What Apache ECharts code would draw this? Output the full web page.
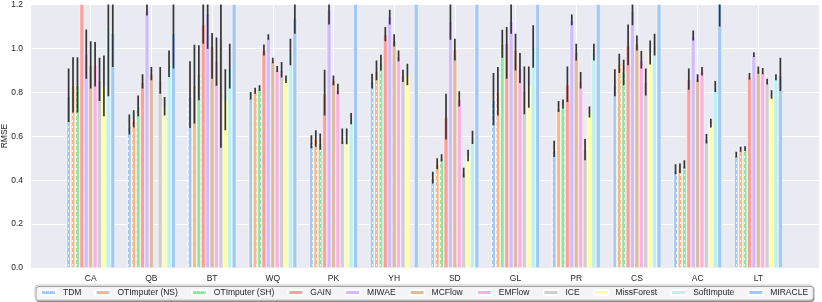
<!DOCTYPE html>
<html><head><meta charset="utf-8">
<script src="https://cdn.jsdelivr.net/npm/echarts@6/dist/echarts.min.js"></script>
<style>html,body{margin:0;padding:0;background:#fff}#c{width:822px;height:302px}</style>
</head><body><div id="c"></div>
<script>
const categories = ['CA','QB','BT','WQ','PK','YH','SD','GL','PR','CS','AC','LT'];
const methods = ['TDM','OTImputer (NS)','OTImputer (SH)','GAIN','MIWAE','MCFlow','EMFlow','ICE','MissForest','SoftImpute','MIRACLE'];
const colors = ['#a1c9f4','#ffb482','#8de5a1','#ff9f9b','#d0bbff','#debb9b','#fab0e4','#cfcfcf','#fffea3','#b9f2f0','#a1c9f4'];
const hatched = [true,true,true,false,false,false,false,false,false,false,false];
const yTicks = [0, 0.2, 0.4, 0.6, 0.8, 1.0, 1.2];
const yTitle = 'RMSE';

// mean RMSE per category
const TDM_mean  = [0.783,0.650,0.783,0.776,0.575,0.850,0.410,0.764,0.536,0.836,0.445,0.514];
const NS_mean   = [0.832,0.677,0.832,0.801,0.589,0.897,0.475,0.801,0.730,0.930,0.453,0.536];
const SH_mean   = [0.832,0.736,0.885,0.817,0.570,0.935,0.500,1.021,0.736,0.897,0.468,0.539];
const GAIN_mean = [1.450,0.847,1.109,0.991,0.794,1.064,0.688,1.024,0.836,1.014,0.858,0.870];
const MIWAE_mean= [0.976,1.173,1.158,1.052,1.176,1.147,1.124,1.124,1.127,1.170,1.055,0.968];
const MCF_mean  = [0.923,0.882,1.009,0.942,0.855,1.036,0.994,0.991,0.983,1.021,0.862,0.900];
const EMF_mean  = [0.927,null ,0.941,0.903,0.812,0.964,0.768,0.908,0.852,0.945,0.897,0.893];
const ICE_mean  = [0.855,0.855,1.047,0.900,0.580,0.880,0.435,0.806,0.540,0.847,0.585,0.847];
const MF_mean   = [0.827,0.736,0.767,0.862,0.597,0.877,0.510,0.827,0.706,0.979,0.655,0.779];
const SI_mean   = [1.101,0.930,0.915,0.983,0.675,null ,0.590,1.006,0.983,1.014,0.821,0.867];
const MIR_mean  = [1.070,1.070,1.400,1.139,1.400,1.400,1.400,1.400,1.400,1.400,1.300,0.877];

// confidence intervals [low, high]
const TDM_ci  = [[0.665,0.908],[0.608,0.699],[0.638,0.941],[0.767,0.801],[0.545,0.605],[0.817,0.885],[0.385,0.438],[0.650,0.888],[0.506,0.579],[0.782,0.905],[0.427,0.473],[0.503,0.529]];
const NS_ci   = [[0.708,0.960],[0.640,0.718],[0.658,1.017],[0.794,0.821],[0.552,0.627],[0.855,0.945],[0.450,0.500],[0.695,0.915],[0.711,0.761],[0.888,0.976],[0.433,0.476],[0.529,0.552]];
const SH_ci   = [[0.708,0.960],[0.691,0.786],[0.764,1.014],[0.806,0.832],[0.539,0.612],[0.900,0.971],[0.486,0.518],[0.958,1.085],[0.726,0.767],[0.832,0.948],[0.453,0.491],[0.533,0.555]];
const GAIN_ci = [[1.300,1.600],[0.817,0.882],[1.021,1.250],[0.968,1.018],[0.695,0.903],[1.033,1.097],[0.585,0.794],[0.862,1.097],[0.756,0.918],[0.923,1.109],[0.812,0.908],[0.858,0.888]];
const MIWAE_ci= [[0.862,1.086],[1.150,1.220],[0.998,1.300],[1.039,1.064],[1.109,1.240],[1.109,1.176],[1.039,1.220],[1.067,1.220],[1.105,1.155],[1.105,1.230],[1.036,1.082],[0.961,0.983]];
const MCF_ci  = [[0.817,1.033],[0.855,0.915],[0.862,1.070],[0.933,0.958],[0.832,0.877],[1.009,1.064],[0.945,1.044],[0.900,1.067],[0.945,1.021],[0.991,1.059],[0.847,0.882],[0.885,0.918]];
const EMF_ci  = [[0.827,1.029],null,[0.830,1.050],[0.893,0.920],[0.791,0.839],[0.942,0.991],[0.736,0.805],[0.842,0.979],[0.817,0.893],[0.908,0.988],[0.877,0.915],[0.882,0.911]];
const ICE_ci  = [[0.761,0.958],[0.794,0.915],[0.548,1.250],[0.867,0.938],[0.565,0.635],[0.847,0.903],[0.412,0.457],[0.700,0.918],[0.491,0.588],[0.786,0.908],[0.567,0.610],[0.836,0.862]];
const MF_ci   = [[0.691,0.968],[0.695,0.779],[0.627,0.905],[0.842,0.877],[0.564,0.635],[0.832,0.930],[0.486,0.539],[0.730,0.918],[0.685,0.736],[0.927,1.036],[0.640,0.680],[0.771,0.809]];
const SI_ci   = [[0.782,1.420],[0.870,0.990],[0.817,1.021],[0.923,1.044],[0.655,0.706],null,[0.565,0.625],[0.912,1.105],[0.945,1.021],[0.968,1.067],[0.801,0.852],[0.855,0.882]];
const MIR_ci  = [[0.915,1.230],[0.908,1.230],[1.300,1.500],[1.067,1.210],[1.300,1.500],[1.300,1.500],[1.300,1.500],[1.300,1.500],[1.300,1.500],[1.300,1.500],[1.100,1.500],[0.806,0.958]];

const means = [TDM_mean,NS_mean,SH_mean,GAIN_mean,MIWAE_mean,MCF_mean,EMF_mean,ICE_mean,MF_mean,SI_mean,MIR_mean];
const cis = [TDM_ci,NS_ci,SH_ci,GAIN_ci,MIWAE_ci,MCF_ci,EMF_ci,ICE_ci,MF_ci,SI_ci,MIR_ci];

const xCats = [''].concat(categories, ['']);
const pad = a => [null].concat(a, [null]);
const FONT = 'Liberation Sans, Arial, sans-serif';
const TXT = '#262626';
const nS = methods.length;

const series = methods.map((m, i) => {
  const st = { color: colors[i], borderColor: '#ffffff', borderWidth: 0.5 };
  if (hatched[i]) {
    st.decal = { symbol: 'rect', symbolSize: 1, color: 'rgba(255,255,255,0.85)',
                 dashArrayX: [1, 2.6], dashArrayY: [1.2, 3.5], rotation: 0 };
  }
  return { name: m, type: 'bar', data: pad(means[i]), barGap: '0%', barCategoryGap: '20%',
           itemStyle: st, clip: true, z: 2, emphasis: { disabled: true } };
});

const errData = [];
cis.forEach((arr, i) => arr.forEach((ci, k) => { if (ci) errData.push([k + 1, i, ci[0], ci[1]]); }));
series.push({
  type: 'custom', name: '__err', silent: true, clip: true, z: 5,
  encode: { x: 0, y: [2, 3] },
  data: errData,
  renderItem: function (params, api) {
    const cat = api.value(0), s = api.value(1);
    const bw = api.size([1, 0])[0];
    const w = bw * 0.8 / nS;
    const cx = api.coord([cat, 0])[0] + (s - (nS - 1) / 2) * w;
    const y1 = api.coord([cat, api.value(2)])[1];
    const y2 = api.coord([cat, api.value(3)])[1];
    return { type: 'line', shape: { x1: cx, y1: y1, x2: cx, y2: y2 },
             style: { stroke: '#353535', lineWidth: 1.7 } };
  }
});

const chart = echarts.init(document.getElementById('c'), null, { renderer: 'canvas' });
chart.setOption({
  animation: false,
  textStyle: { fontFamily: FONT },
  grid: { left: 30, right: 2, top: 4, bottom: 34, show: true, backgroundColor: '#eaeaf2', borderWidth: 0 },
  xAxis: {
    type: 'category', data: xCats, boundaryGap: false,
    axisLine: { show: false }, axisTick: { show: false },
    axisLabel: { interval: 0, color: TXT, fontSize: 8.5, margin: 6, fontFamily: FONT },
    splitLine: { show: true, lineStyle: { color: '#ffffff', width: 1 } }
  },
  yAxis: {
    type: 'value', min: yTicks[0], max: yTicks[yTicks.length - 1], interval: 0.2,
    axisLine: { show: false }, axisTick: { show: false },
    axisLabel: { color: TXT, fontSize: 8.5, margin: 7, fontFamily: FONT, formatter: v => v.toFixed(1) },
    splitLine: { show: true, lineStyle: { color: '#ffffff', width: 1 } }
  },
  graphic: [{
    type: 'text', x: 5, y: 136, rotation: Math.PI / 2, silent: true,
    style: { text: yTitle, fill: TXT, font: '8.5px ' + FONT, align: 'center', verticalAlign: 'middle' }
  }],
  legend: {
    data: methods, left: 35, top: 285, width: 790, orient: 'horizontal',
    itemWidth: 15, itemHeight: 5, itemGap: 13,
    padding: [3, 5, 3, 5],
    backgroundColor: '#f4f4f6', borderColor: '#c8c8c8', borderWidth: 1, borderRadius: 3,
    shadowColor: 'rgba(0,0,0,0.35)', shadowOffsetX: 1, shadowOffsetY: 1.5, shadowBlur: 0,
    textStyle: { color: TXT, fontSize: 8.5, fontFamily: FONT, padding: [0, 0, 0, 2] },
    selectedMode: false
  },
  series: series
});
</script></body></html>
